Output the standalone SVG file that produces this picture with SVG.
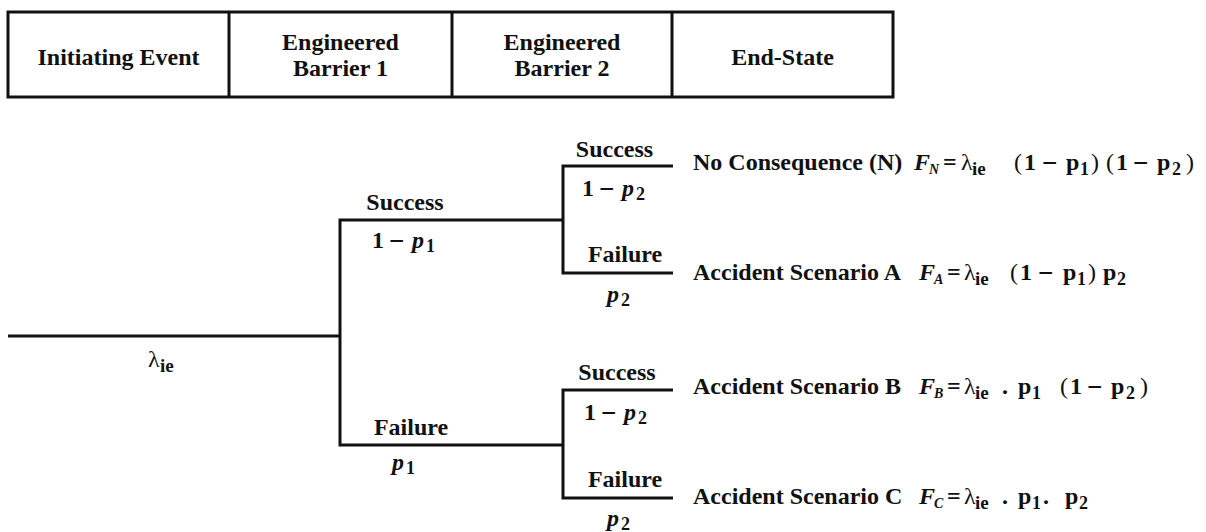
<svg xmlns="http://www.w3.org/2000/svg" width="1206" height="532" viewBox="0 0 1206 532" font-family="'Liberation Serif', 'Times New Roman', Times, 'DejaVu Serif', serif">
<style>
text{font-family:'Liberation Serif', 'Times New Roman', Times, 'DejaVu Serif', serif;font-weight:700;font-size:24px;fill:#111}
.c{text-anchor:middle}
.sb{font-size:18px}
.si{font-size:19px}
.sn{font-size:14px}
.mi{font-size:27px}
.it{font-style:italic}
.rg{font-weight:400}
.ln{fill:none;stroke:#111;stroke-width:3}
</style>
<rect width="1206" height="532" fill="#fff"/>
<g id="header">
  <rect class="ln" x="8" y="12" width="885" height="85"/>
  <path class="ln" d="M229 12V97M452 12V97M672 12V97"/>
  <g id="h-initiating"><text class="c" x="118.5" y="65">Initiating Event</text></g>
  <g id="h-barrier1"><text class="c" x="340.5" y="50">Engineered</text><text class="c" x="340.5" y="76">Barrier 1</text></g>
  <g id="h-barrier2"><text class="c" x="562" y="50">Engineered</text><text class="c" x="562" y="76">Barrier 2</text></g>
  <g id="h-endstate"><text class="c" x="782.5" y="65">End-State</text></g>
</g>
<g id="connectors">
  <path class="ln" d="M8 336H340"/>
  <path class="ln" d="M563 220H340V445H563"/>
  <path class="ln" d="M673 166H563V273H673"/>
  <path class="ln" d="M673 390H563V498H673"/>
</g>
<g id="initiating-event">
  <text x="148" y="367"><tspan class="rg">λ</tspan><tspan class="si" x="160" y="372">ie</tspan></text>
</g>
<g id="barrier1-success">
  <text class="c" x="405" y="210">Success</text>
  <text x="372" y="248">1<tspan class="mi" x="389" y="250">−</tspan><tspan class="it" x="412" y="248">p</tspan><tspan class="sb" x="426" y="252">1</tspan></text>
</g>
<g id="barrier1-failure">
  <text class="c" x="411" y="435">Failure</text>
  <text x="392" y="470"><tspan class="it">p</tspan><tspan class="sb" x="406" y="474">1</tspan></text>
</g>
<g id="barrier2-success-a">
  <text class="c" x="614.5" y="157">Success</text>
  <text x="582" y="196">1<tspan class="mi" x="599" y="198">−</tspan><tspan class="it" x="622" y="196">p</tspan><tspan class="sb" x="636" y="200">2</tspan></text>
</g>
<g id="barrier2-failure-a">
  <text class="c" x="625" y="262">Failure</text>
  <text x="607" y="302"><tspan class="it">p</tspan><tspan class="sb" x="621" y="306">2</tspan></text>
</g>
<g id="barrier2-success-b">
  <text class="c" x="617" y="380">Success</text>
  <text x="584" y="420">1<tspan class="mi" x="601" y="422">−</tspan><tspan class="it" x="624" y="420">p</tspan><tspan class="sb" x="638" y="424">2</tspan></text>
</g>
<g id="barrier2-failure-b">
  <text class="c" x="625" y="487">Failure</text>
  <text x="607" y="526"><tspan class="it">p</tspan><tspan class="sb" x="621" y="530">2</tspan></text>
</g>
<g id="end-state-n">
  <text x="693" y="170">No Consequence (N)</text>
  <text x="914" y="170"><tspan class="it">F</tspan><tspan class="sn it" x="929" y="174">N</tspan><tspan x="943" y="170">=</tspan><tspan class="rg" x="961">λ</tspan><tspan class="si" x="972" y="175">ie</tspan><tspan class="rg" x="1014" y="170">(</tspan><tspan x="1024">1</tspan><tspan class="mi" x="1042" y="172">−</tspan><tspan x="1066" y="170">p</tspan><tspan class="sb" x="1080" y="175">1</tspan><tspan class="rg" x="1091" y="170">)</tspan><tspan class="rg" x="1106">(</tspan><tspan x="1116">1</tspan><tspan class="mi" x="1133" y="172">−</tspan><tspan x="1157" y="170">p</tspan><tspan class="sb" x="1172" y="175">2</tspan><tspan class="rg" x="1186" y="170">)</tspan></text>
</g>
<g id="end-state-a">
  <text x="693" y="280">Accident Scenario A</text>
  <text x="919" y="280"><tspan class="it">F</tspan><tspan class="sn it" x="934" y="284">A</tspan><tspan x="947" y="280">=</tspan><tspan class="rg" x="964">λ</tspan><tspan class="si" x="975" y="285">ie</tspan><tspan class="rg" x="1010" y="280">(</tspan><tspan x="1020">1</tspan><tspan class="mi" x="1038" y="282">−</tspan><tspan x="1063" y="280">p</tspan><tspan class="sb" x="1077" y="285">1</tspan><tspan class="rg" x="1088" y="280">)</tspan><tspan x="1103">p</tspan><tspan class="sb" x="1117" y="285">2</tspan></text>
</g>
<g id="end-state-b">
  <text x="693" y="394">Accident Scenario B</text>
  <text x="919" y="394"><tspan class="it">F</tspan><tspan class="sn it" x="934" y="398">B</tspan><tspan x="947" y="394">=</tspan><tspan class="rg" x="964">λ</tspan><tspan class="si" x="975" y="399">ie</tspan><tspan x="1002" y="394">.</tspan><tspan x="1018">p</tspan><tspan class="sb" x="1032" y="399">1</tspan><tspan class="rg" x="1060" y="394">(</tspan><tspan x="1070">1</tspan><tspan class="mi" x="1087" y="396">−</tspan><tspan x="1111" y="394">p</tspan><tspan class="sb" x="1126" y="399">2</tspan><tspan class="rg" x="1140" y="394">)</tspan></text>
</g>
<g id="end-state-c">
  <text x="693" y="504">Accident Scenario C</text>
  <text x="919" y="504"><tspan class="it">F</tspan><tspan class="sn it" x="934" y="508">C</tspan><tspan x="947" y="504">=</tspan><tspan class="rg" x="964">λ</tspan><tspan class="si" x="975" y="509">ie</tspan><tspan x="1002" y="504">.</tspan><tspan x="1018">p</tspan><tspan class="sb" x="1032" y="509">1</tspan><tspan x="1043" y="504">.</tspan><tspan x="1065">p</tspan><tspan class="sb" x="1079" y="509">2</tspan></text>
</g>
</svg>
